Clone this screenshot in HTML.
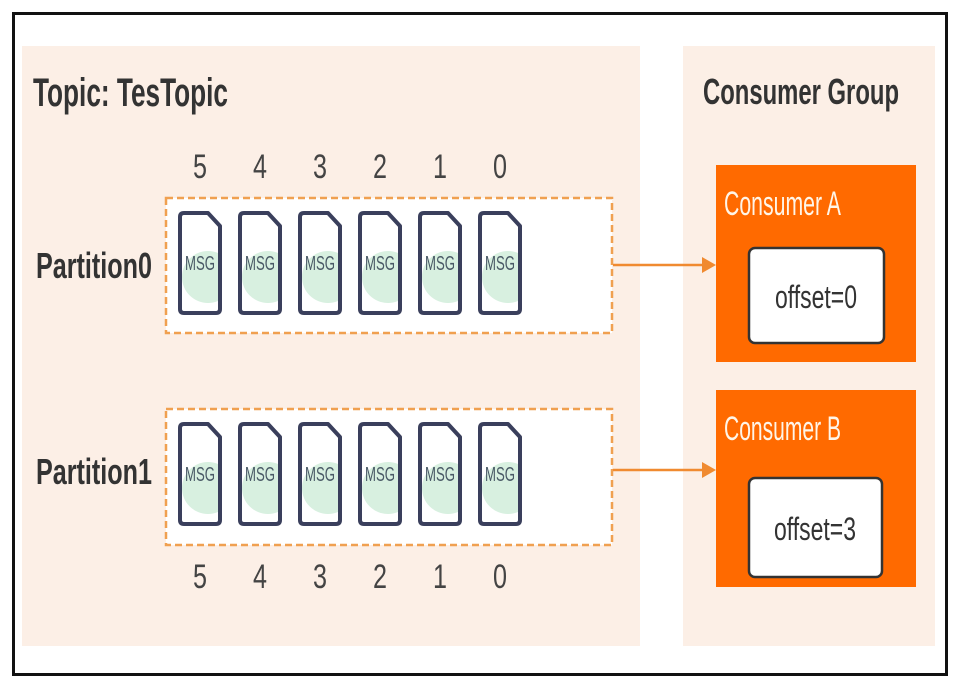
<!DOCTYPE html>
<html><head><meta charset="utf-8"><style>
html,body{margin:0;padding:0;background:#fff;}
svg{display:block}
text{font-family:"Liberation Sans Narrow","Liberation Sans",sans-serif;}
</style></head><body>
<svg width="965" height="690" viewBox="0 0 965 690" xmlns="http://www.w3.org/2000/svg">
<rect x="0" y="0" width="965" height="690" fill="#fff"/>
<rect x="13.5" y="13.5" width="933" height="661" fill="#fff" stroke="#111" stroke-width="3"/>
<rect x="22" y="46" width="618" height="600" fill="#fcefe6"/>
<rect x="683" y="46" width="252" height="600" fill="#fcefe6"/>
<text x="33" y="106" font-size="40" fill="#333" font-weight="bold" textLength="195" lengthAdjust="spacingAndGlyphs">Topic: TesTopic</text>
<text x="703" y="104" font-size="36" fill="#333" font-weight="bold" textLength="196" lengthAdjust="spacingAndGlyphs">Consumer Group</text>
<text x="36" y="278" font-size="36" fill="#333" font-weight="bold" textLength="116" lengthAdjust="spacingAndGlyphs">Partition0</text>
<text x="36" y="484" font-size="36" fill="#333" font-weight="bold" textLength="116" lengthAdjust="spacingAndGlyphs">Partition1</text>
<g font-size="34" fill="#444" text-anchor="middle">
<text x="200" y="178" textLength="14" lengthAdjust="spacingAndGlyphs">5</text><text x="260" y="178" textLength="14" lengthAdjust="spacingAndGlyphs">4</text><text x="320" y="178" textLength="14" lengthAdjust="spacingAndGlyphs">3</text><text x="380" y="178" textLength="14" lengthAdjust="spacingAndGlyphs">2</text><text x="440" y="178" textLength="14" lengthAdjust="spacingAndGlyphs">1</text><text x="500" y="178" textLength="14" lengthAdjust="spacingAndGlyphs">0</text>
<text x="200" y="588" textLength="14" lengthAdjust="spacingAndGlyphs">5</text><text x="260" y="588" textLength="14" lengthAdjust="spacingAndGlyphs">4</text><text x="320" y="588" textLength="14" lengthAdjust="spacingAndGlyphs">3</text><text x="380" y="588" textLength="14" lengthAdjust="spacingAndGlyphs">2</text><text x="440" y="588" textLength="14" lengthAdjust="spacingAndGlyphs">1</text><text x="500" y="588" textLength="14" lengthAdjust="spacingAndGlyphs">0</text>
</g>
<rect x="166" y="198" width="446" height="135" fill="#fff" stroke="#f0a050" stroke-width="2.5" stroke-dasharray="7,4"/>
<rect x="166" y="409" width="446" height="136" fill="#fff" stroke="#f0a050" stroke-width="2.5" stroke-dasharray="7,4"/>
<defs>
<clipPath id="ic"><path d="M-18,-48 H8 L20,-36 V48 H-18 Z"/></clipPath>
<g id="msg">
<circle cx="8" cy="14" r="26" fill="#d8f0e0" clip-path="url(#ic)"/>
<path d="M-16,-50 H8 L20,-37 V46 Q20,50 16,50 H-16 Q-20,50 -20,46 V-46 Q-20,-50 -16,-50 Z" fill="none" stroke="#3a3f5c" stroke-width="4" stroke-linejoin="round"/>
<text x="0" y="7" font-size="20" fill="#4a5a66" text-anchor="middle" textLength="30" lengthAdjust="spacingAndGlyphs">MSG</text>
</g>
</defs>
<use href="#msg" x="200" y="263"/><use href="#msg" x="260" y="263"/><use href="#msg" x="320" y="263"/><use href="#msg" x="380" y="263"/><use href="#msg" x="440" y="263"/><use href="#msg" x="500" y="263"/>
<use href="#msg" x="200" y="474"/><use href="#msg" x="260" y="474"/><use href="#msg" x="320" y="474"/><use href="#msg" x="380" y="474"/><use href="#msg" x="440" y="474"/><use href="#msg" x="500" y="474"/>
<g stroke="#f08a30" stroke-width="2.5" fill="#f08a30">
<line x1="613" y1="265" x2="704" y2="265"/><polygon points="716,265 702,257 702,273" stroke="none"/>
<line x1="613" y1="470" x2="704" y2="470"/><polygon points="716,470 702,462 702,478" stroke="none"/>
</g>
<rect x="716" y="165" width="200" height="197" fill="#ff6a00"/>
<rect x="716" y="390" width="200" height="197" fill="#ff6a00"/>
<text x="724" y="215" font-size="34" fill="#fff5e8" textLength="117" lengthAdjust="spacingAndGlyphs">Consumer A</text>
<text x="724" y="440" font-size="34" fill="#fff5e8" textLength="117" lengthAdjust="spacingAndGlyphs">Consumer B</text>
<rect x="749" y="248" width="135" height="95" rx="6" fill="#fff" stroke="#333" stroke-width="2.5"/>
<rect x="749" y="478" width="133" height="99" rx="6" fill="#fff" stroke="#333" stroke-width="2.5"/>
<text x="816" y="308" font-size="32" fill="#333" text-anchor="middle" textLength="82" lengthAdjust="spacingAndGlyphs">offset=0</text>
<text x="815" y="540" font-size="32" fill="#333" text-anchor="middle" textLength="82" lengthAdjust="spacingAndGlyphs">offset=3</text>
</svg>
</body></html>
